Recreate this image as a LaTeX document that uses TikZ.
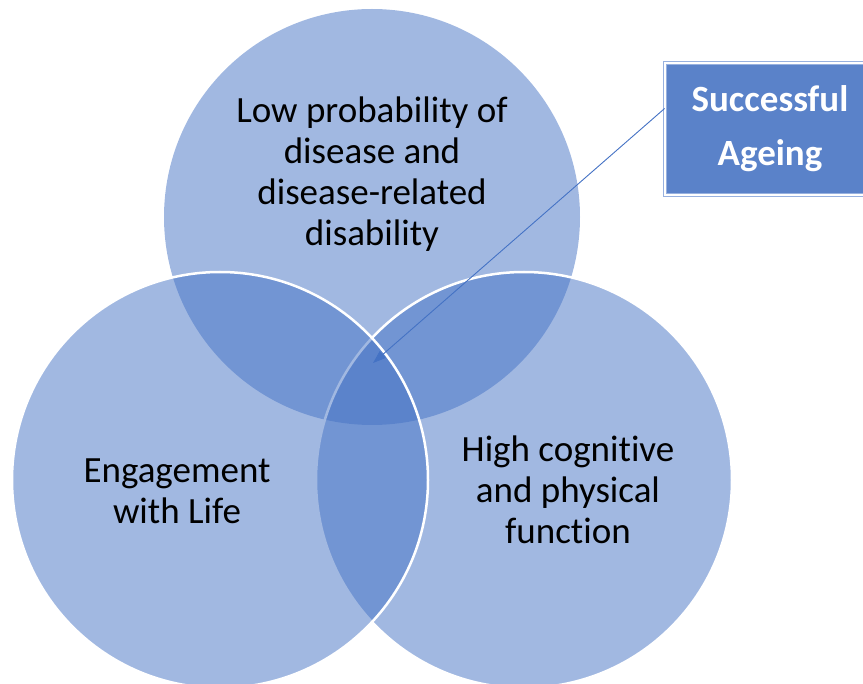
\documentclass[tikz,border=0pt]{standalone}
\usepackage{fontspec}
\setmainfont{Carlito}[RawFeature={-liga;-clig;-calt}]
\usetikzlibrary{arrows.meta}
\definecolor{venn}{HTML}{4472C4}
\definecolor{boxblue}{HTML}{5A82C9}
\begin{document}
\begin{tikzpicture}[x=1pt,y=-1pt]
    \tikzstyle{every node}+=[inner sep=0pt]
    \tikzstyle{ring}=[circle, minimum size=416pt, fill=venn, fill opacity=0.5]
    \tikzstyle{rim}=[draw=white, line width=2.5pt]
    \tikzstyle{vtext}=[align=center, font=\fontsize{37}{41}\selectfont]
    \useasboundingbox (0,0) rectangle (863,684);
    \node [ring] (health) at (372,217) {};
    \node [ring, rim] (function) at (524,480) {};
    \node [ring, rim] (engage) at (220,480) {};
    \node [vtext] (healthtxt) at (372,174) {Low probability of\\disease and\\disease-related\\disability};
    \node [vtext] (engagetxt) at (177,491) {Engagement\\with Life};
    \node [vtext] (functiontxt) at (568,490) {High cognitive\\and physical\\function};
    \node [draw=venn!55, double=white, double distance=2pt, line width=0.8pt, fill=boxblue,
           minimum width=210pt, minimum height=132pt, align=center, text=white,
           font=\bfseries\fontsize{37}{54}\selectfont] (ageing) at (770,129) {Successful\\Ageing};
    \coordinate (core) at (373,363);
    \draw [venn, line width=0.9pt, -{Triangle[length=13pt,width=9pt]}] (ageing.169) -- (core);
\end{tikzpicture}
\end{document}
